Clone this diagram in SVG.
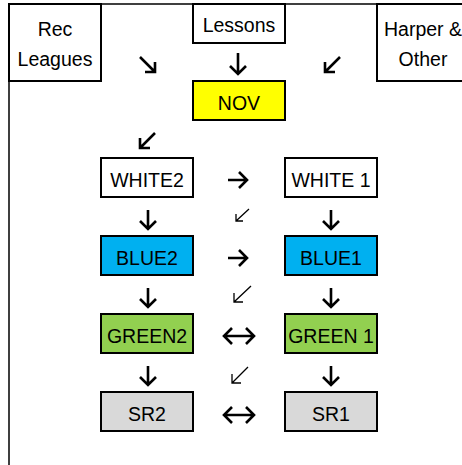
<svg xmlns="http://www.w3.org/2000/svg" width="462" height="465" viewBox="0 0 462 465">
<style>
.box{stroke:#000;stroke-width:2;}
.t{font-family:"Liberation Sans",Arial,sans-serif;font-size:19.5px;fill:#000;text-anchor:middle;}
.a{fill:none;stroke:#000;stroke-width:2.6;stroke-linejoin:miter;}
.s{fill:none;stroke:#000;stroke-width:1.3;}
</style>
<rect width="462" height="465" fill="#fff"/>
<g id="frame"><path d="M9,465 V4 H462" fill="none" stroke="#000" stroke-width="1.5"/></g>
<g id="rec"><rect class="box" x="9" y="4" width="92" height="77" fill="#fff"/><text class="t" x="55" y="36">Rec</text><text class="t" x="55" y="66">Leagues</text></g>
<g id="lessons"><rect class="box" x="193" y="4" width="92" height="39" fill="#fff"/><text class="t" x="239" y="32">Lessons</text></g>
<g id="harper"><rect class="box" x="377" y="4" width="92" height="77" fill="#fff"/><text class="t" x="423" y="36">Harper &amp;</text><text class="t" x="423" y="66">Other</text></g>
<g id="nov"><rect class="box" x="193" y="81" width="92" height="39" fill="#FFFF00"/><text class="t" x="239" y="110">NOV</text></g>
<g id="white2"><rect class="box" x="101" y="158" width="92" height="39" fill="#fff"/><text class="t" x="147" y="187">WHITE2</text></g>
<g id="white1"><rect class="box" x="285" y="158" width="92" height="39" fill="#fff"/><text class="t" x="331" y="187">WHITE 1</text></g>
<g id="blue2"><rect class="box" x="101" y="236" width="92" height="39" fill="#00B0F0"/><text class="t" x="147" y="265">BLUE2</text></g>
<g id="blue1"><rect class="box" x="285" y="236" width="92" height="39" fill="#00B0F0"/><text class="t" x="331" y="265">BLUE1</text></g>
<g id="green2"><rect class="box" x="101" y="314" width="92" height="39" fill="#92D050"/><text class="t" x="147" y="343">GREEN2</text></g>
<g id="green1"><rect class="box" x="285" y="314" width="92" height="39" fill="#92D050"/><text class="t" x="331" y="343">GREEN 1</text></g>
<g id="sr2"><rect class="box" x="101" y="392" width="92" height="39" fill="#D9D9D9"/><text class="t" x="147" y="421">SR2</text></g>
<g id="sr1"><rect class="box" x="285" y="392" width="92" height="39" fill="#D9D9D9"/><text class="t" x="331" y="421">SR1</text></g>
<g id="connectors">
<path class="a" d="M140,57 L155,72 M145,72 H155 V62"/>
<path class="a" d="M238,53 V74 M230,66 L238,74 L246,66"/>
<path class="a" d="M340,57 L325,72 M325,62 V72 H335"/>
<path class="a" d="M155,133 L140,148 M140,138 V148 H150"/>
<path class="a" d="M228,180 H247 M239,172 L247,180 L239,188"/>
<path class="a" d="M228,258 H247 M239,250 L247,258 L239,266"/>
<path class="a" d="M224,336 H254 M232,328 L224,336 L232,344 M246,328 L254,336 L246,344"/>
<path class="a" d="M224,415 H254 M232,407 L224,415 L232,423 M246,407 L254,415 L246,423"/>
<path class="a" d="M148,210 V229 M140,221 L148,229 L156,221"/>
<path class="a" d="M331,210 V229 M323,221 L331,229 L339,221"/>
<path class="a" d="M148,288 V307 M140,299 L148,307 L156,299"/>
<path class="a" d="M331,288 V307 M323,299 L331,307 L339,299"/>
<path class="a" d="M148,366 V385 M140,377 L148,385 L156,377"/>
<path class="a" d="M331,366 V385 M323,377 L331,385 L339,377"/>
<path class="s" d="M249,209 L236,221 M236,214 V221 H243"/>
<path class="s" d="M251,286 L234,302 M234,293 V302 H243"/>
<path class="s" d="M248,367 L232,383 M232,374 V383 H241"/>
</g>
</svg>
